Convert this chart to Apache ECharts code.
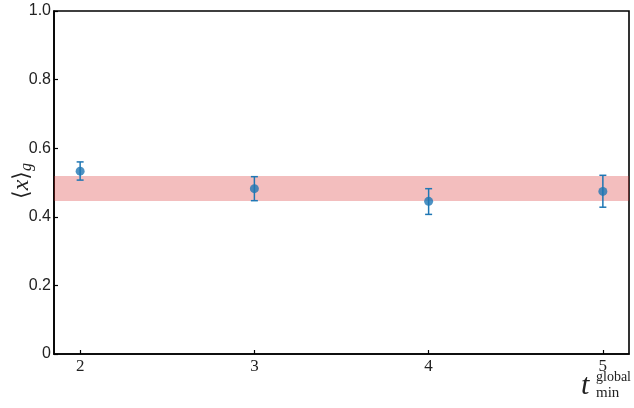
<!DOCTYPE html>
<html>
<head>
<meta charset="utf-8">
<script src="https://cdn.jsdelivr.net/npm/echarts@6/dist/echarts.min.js"></script>
<style>html,body{margin:0;padding:0;background:#fff}#c{width:634px;height:408px}</style>
</head>
<body>
<div id="c"></div>
<script>
const xValues = [2, 3, 4, 5];
const yValues = [0.533, 0.482, 0.445, 0.474];
const yErrLow = [0.507, 0.447, 0.407, 0.428];
const yErrHigh = [0.560, 0.517, 0.482, 0.521];
const bandLow = 0.446;
const bandHigh = 0.519;
const xTicks = [2, 3, 4, 5];
const yTicks = [0, 0.2, 0.4, 0.6, 0.8, 1.0];

const blue = '#1f77b4';
const chart = echarts.init(document.getElementById('c'), null, {renderer: 'canvas'});

const errData = xValues.map((x, i) => [x, yErrLow[i], yErrHigh[i]]);

chart.setOption({
  animation: false,
  grid: {left: 54, right: 5, top: 11, bottom: 54, outerBoundsMode: 'none', containLabel: false,
    show: true, borderColor: '#000', borderWidth: 1.6, backgroundColor: 'transparent'},
  xAxis: {
    type: 'value', min: 1.85, max: 5.15,
    axisLine: {show: true, onZero: false, lineStyle: {color: '#000', width: 1.6}},
    axisTick: {show: true, inside: true, length: 4, customValues: xTicks, lineStyle: {color: '#000', width: 1.2}},
    axisLabel: {customValues: xTicks, color: '#222', fontFamily: 'Liberation Serif', fontSize: 17, margin: 4},
    splitLine: {show: false}
  },
  yAxis: {
    type: 'value', min: 0, max: 1, interval: 0.2,
    axisLine: {show: true, lineStyle: {color: '#000', width: 1.6}},
    axisTick: {show: true, inside: true, length: 4, lineStyle: {color: '#000', width: 1.2}},
    axisLabel: {color: '#222', fontFamily: 'Liberation Sans', fontSize: 16, margin: 3,
      formatter: v => (v === 0 ? '0' : v.toFixed(1))},
    splitLine: {show: false}
  },
  graphic: [{
    type: 'text', x: 22, y: 181, rotation: Math.PI / 2,
    style: {
      text: '{a|⟨}{x|x}{a|⟩}{g|g}', align: 'center', verticalAlign: 'middle',
      rich: {
        a: {fontFamily: 'DejaVu Serif', fontSize: 22, fill: '#222'},
        x: {fontFamily: 'Liberation Serif', fontStyle: 'italic', fontSize: 24, fill: '#222'},
        g: {fontFamily: 'Liberation Serif', fontStyle: 'italic', fontSize: 16, fill: '#222', padding: [10, 0, 0, 0]}
      }
    }
  }, {
    type: 'text', left: 581, top: 371,
    style: {text: 't', font: 'italic 30px "Liberation Serif"', fill: '#222'}
  }, {
    type: 'text', left: 596, top: 370,
    style: {text: 'global', font: '14px "Liberation Serif"', fill: '#222'}
  }, {
    type: 'text', left: 596, top: 386,
    style: {text: 'min', font: '15px "Liberation Serif"', fill: '#222'}
  }],
  series: [
    {
      type: 'line', data: [], silent: true,
      markArea: {
        silent: true,
        itemStyle: {color: 'rgba(214,39,40,0.3)'},
        data: [[{yAxis: bandLow}, {yAxis: bandHigh}]]
      }
    },
    {
      type: 'custom', data: errData, z: 3,
      renderItem: function (params, api) {
        const x = api.value(0);
        const lo = api.coord([x, api.value(1)]);
        const hi = api.coord([x, api.value(2)]);
        const cw = 3.5;
        const st = {stroke: blue, lineWidth: 1.5};
        return {type: 'group', children: [
          {type: 'line', shape: {x1: lo[0], y1: lo[1], x2: hi[0], y2: hi[1]}, style: st},
          {type: 'line', shape: {x1: lo[0] - cw, y1: lo[1], x2: lo[0] + cw, y2: lo[1]}, style: st},
          {type: 'line', shape: {x1: hi[0] - cw, y1: hi[1], x2: hi[0] + cw, y2: hi[1]}, style: st}
        ]};
      }
    },
    {
      type: 'scatter', z: 4, symbol: 'circle', symbolSize: 9,
      itemStyle: {color: blue},
      data: xValues.map((x, i) => [x, yValues[i]])
    }
  ]
});
</script>
</body>
</html>
